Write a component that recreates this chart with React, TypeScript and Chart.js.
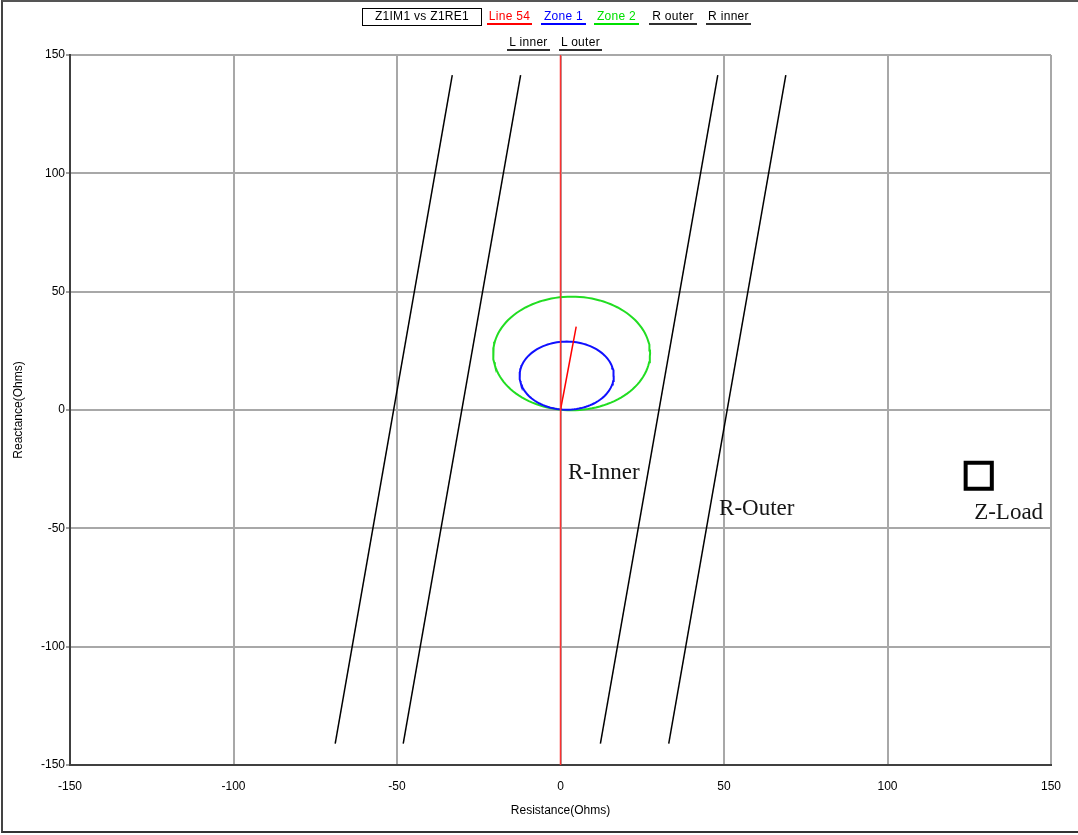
import React, { useEffect, useRef } from 'react';
import { Chart, registerables } from 'chart.js';

Chart.register(...registerables);

// ---- data ----
const axisMin = -150;
const axisMax = 150;
const tickStep = 50;

const line54X = [0, 4.8];
const line54Y = [0, 35.2];
const line54AxisX = [0, 0];
const line54AxisY = [-150, 150];

const zone1Center = [1.9, 14.5];
const zone1Radius = 14.4;
const zone2Center = [3.4, 23.9];
const zone2Radius = 24.0;

const rOuterX = [33.1, 68.9];
const rOuterY = [-141, 141.5];
const rInnerX = [12.2, 48.1];
const rInnerY = [-141, 141.5];
const lInnerX = [-48.1, -12.2];
const lInnerY = [-141, 141.5];
const lOuterX = [-68.9, -33.1];
const lOuterY = [-141, 141.5];

const zLoadX = [127.9];
const zLoadY = [-27.8];

const annotationTexts = ['R-Inner', 'R-Outer', 'Z-Load'];
const annotationX = [2.3, 48.5, 126.5];
const annotationY = [-29.2, -44.4, -46.0];

const legendTitle = 'Z1IM1 vs Z1RE1';
const legendRow1 = ['Line 54', 'Zone 1', 'Zone 2', 'R outer', 'R inner'];
const legendRow1Colors = ['#ff0000', '#0000ff', '#00e000', '#000000', '#000000'];
const legendRow2 = ['L inner', 'L outer'];
const legendRow2Colors = ['#000000', '#000000'];

const xTitle = 'Resistance(Ohms)';
const yTitle = 'Reactance(Ohms)';

// ---- layout (not data) ----
const legendRow1Left = [487, 541, 594, 649, 706];
const legendRow1Width = [45, 45, 45, 48, 45];
const legendRow2Left = [507, 559];
const legendRow2Width = [43, 43];

const pairs = (xs: number[], ys: number[]) => xs.map((x, i) => ({ x, y: ys[i] }));

const circle = (c: number[], r: number) => {
  const pts: { x: number; y: number }[] = [];
  const n = 120;
  for (let i = 0; i <= n; i++) {
    const a = (i / n) * Math.PI * 2;
    pts.push({ x: c[0] + r * Math.cos(a), y: c[1] + r * Math.sin(a) });
  }
  return pts;
};

const uiFont = '"Liberation Sans", Arial, sans-serif';

const annotationPlugin = {
  id: 'annotations',
  afterDatasetsDraw(chart: any) {
    const { ctx, scales } = chart;
    const xs = scales.x;
    const ys = scales.y;
    ctx.save();
    ctx.font = '23px "Liberation Serif", "Times New Roman", serif';
    ctx.fillStyle = '#151515';
    ctx.textAlign = 'left';
    ctx.textBaseline = 'alphabetic';
    annotationTexts.forEach((t, i) => {
      ctx.fillText(t, xs.getPixelForValue(annotationX[i]), ys.getPixelForValue(annotationY[i]));
    });
    ctx.restore();
  },
};

export default function App() {
  const ref = useRef<HTMLCanvasElement | null>(null);

  useEffect(() => {
    if (!ref.current) return;
    const lineDs = (label: string, data: any[], color: string, width = 1.5) => ({
      label,
      data,
      showLine: true,
      borderColor: color,
      backgroundColor: color,
      borderWidth: width,
      pointRadius: 0,
      fill: false,
      tension: 0,
    });
    const chart = new Chart(ref.current, {
      type: 'scatter',
      data: {
        datasets: [
          lineDs('Line 54 axis', pairs(line54AxisX, line54AxisY), '#ff3030', 1.5),
          lineDs('Line 54', pairs(line54X, line54Y), '#ff0000', 1.5),
          lineDs('Zone 1', circle(zone1Center, zone1Radius), '#1010ff', 2),
          lineDs('Zone 2', circle(zone2Center, zone2Radius), '#22dd22', 2),
          lineDs('R outer', pairs(rOuterX, rOuterY), '#000000', 1.5),
          lineDs('R inner', pairs(rInnerX, rInnerY), '#000000', 1.5),
          lineDs('L inner', pairs(lInnerX, lInnerY), '#000000', 1.5),
          lineDs('L outer', pairs(lOuterX, lOuterY), '#000000', 1.5),
          {
            label: 'Z-Load',
            data: pairs(zLoadX, zLoadY),
            showLine: false,
            pointStyle: 'rect',
            pointRadius: 18.5,
            borderWidth: 4,
            borderColor: '#000000',
            backgroundColor: '#ffffff',
          },
          {
            label: 'Z-Load dot',
            data: pairs(zLoadX, zLoadY),
            showLine: false,
            pointRadius: 1,
            borderWidth: 0,
            backgroundColor: '#000000',
          },
        ],
      },
      options: {
        responsive: false,
        animation: false,
        devicePixelRatio: 1,
        layout: { padding: { top: 55, right: 27, left: 0, bottom: 0 } },
        plugins: { legend: { display: false }, tooltip: { enabled: false } },
        scales: {
          x: {
            type: 'linear',
            min: axisMin,
            max: axisMax,
            ticks: {
              stepSize: tickStep,
              color: '#000',
              font: { family: uiFont, size: 12 },
              padding: 14,
              maxRotation: 0,
              autoSkip: false,
            },
            grid: { color: '#a8a8a8', lineWidth: 2, drawTicks: false },
            border: { color: '#404040', width: 2 },
            title: {
              display: true,
              text: xTitle,
              color: '#000',
              font: { family: uiFont, size: 12 },
              padding: { top: 0, bottom: 17 },
            },
            afterFit: (s: any) => {
              s.height = 70;
            },
          },
          y: {
            type: 'linear',
            min: axisMin,
            max: axisMax,
            ticks: {
              stepSize: tickStep,
              color: '#000',
              font: { family: uiFont, size: 12 },
              padding: 1,
              autoSkip: false,
            },
            grid: { color: '#a8a8a8', lineWidth: 2, drawTicks: true, tickLength: 4, tickColor: '#404040', tickWidth: 1 },
            border: { color: '#404040', width: 2 },
            title: {
              display: true,
              text: yTitle,
              color: '#000',
              font: { family: uiFont, size: 12 },
              padding: { top: 11, bottom: 0 },
            },
            afterFit: (s: any) => {
              s.width = 70;
            },
          },
        },
      } as any,
      plugins: [annotationPlugin],
    });
    return () => chart.destroy();
  }, []);

  const legendItem = (label: string, color: string, left: number, width: number, top: number) => (
    <span
      key={label}
      style={{
        position: 'absolute',
        left,
        top,
        width,
        height: 14,
        lineHeight: '14px',
        fontFamily: uiFont,
        fontSize: 12,
        letterSpacing: 0.3,
        color,
        textAlign: 'center',
        borderBottom: `2px solid ${color === '#000000' ? '#303030' : color}`,
        whiteSpace: 'nowrap',
      }}
    >
      {label}
    </span>
  );

  return (
    <div style={{ position: 'absolute', left: 0, top: 0, width: 1078, height: 835, background: '#fff' }}>
      <canvas ref={ref} width={1078} height={835} style={{ display: 'block', width: 1078, height: 835 }} />
      <div
        style={{
          position: 'absolute',
          left: 1,
          top: 0,
          width: 1077,
          height: 833,
          boxSizing: 'border-box',
          borderTop: '2px solid #555',
          borderLeft: '2px solid #444',
          borderBottom: '2px solid #333',
          pointerEvents: 'none',
        }}
      />
      <span
        style={{
          position: 'absolute',
          left: 362,
          top: 8,
          width: 120,
          height: 18,
          boxSizing: 'border-box',
          border: '1.5px solid #000',
          fontFamily: uiFont,
          fontSize: 12,
          letterSpacing: 0.3,
          lineHeight: '15px',
          textAlign: 'center',
          color: '#000',
          whiteSpace: 'nowrap',
        }}
      >
        {legendTitle}
      </span>
      {legendRow1.map((l, i) => legendItem(l, legendRow1Colors[i], legendRow1Left[i], legendRow1Width[i], 9))}
      {legendRow2.map((l, i) => legendItem(l, legendRow2Colors[i], legendRow2Left[i], legendRow2Width[i], 35))}
    </div>
  );
}
